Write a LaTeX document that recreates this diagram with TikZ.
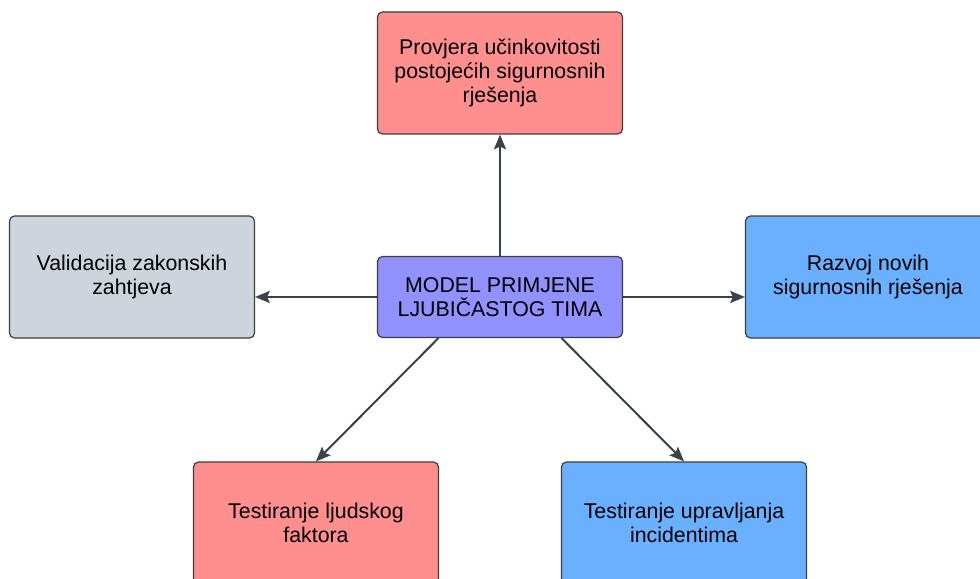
\documentclass[tikz,border=0pt]{standalone}
\usepackage{fontspec}
\setmainfont{Liberation Sans}
\usetikzlibrary{positioning,arrows.meta,calc}
\definecolor{crvena}{HTML}{FF8F8F}
\definecolor{plava}{HTML}{6BB0FF}
\definecolor{ljubicasta}{HTML}{9191FF}
\definecolor{siva}{HTML}{CED4DC}
\definecolor{rub}{HTML}{3D3D3D}
\definecolor{strelica}{HTML}{3A414A}

\begin{document}
\begin{tikzpicture}[on grid,
    kutija/.style={draw=rub, line width=0.9pt, rounded corners=3.75pt,
      minimum width=183.75pt, minimum height=91.5pt, align=center,
      font=\fontsize{16}{18}\selectfont, inner sep=0pt},
    veza/.style={draw=strelica, line width=1.5pt,
      -{Stealth[length=11pt,width=9pt,inset=2pt]}}]
   \clip (-375pt,-210.75pt) rectangle (360pt,222.75pt);
   \node[kutija, fill=ljubicasta, minimum height=60.75pt] (model) at (0,0)
      {MODEL PRIMJENE\\LJUBIČASTOG TIMA};
   \node[kutija, fill=crvena] (provjera) [above=168pt of model]
      {Provjera učinkovitosti\\postojećih sigurnosnih\\rješenja};
   \node[kutija, fill=siva] (validacija) [above left=15pt and 276pt of model]
      {Validacija zakonskih\\zahtjeva};
   \node[kutija, fill=plava] (razvoj) [above right=15pt and 276pt of model]
      {Razvoj novih\\sigurnosnih rješenja};
   \node[kutija, fill=crvena] (ljudski) [below left=169.5pt and 138pt of model]
      {Testiranje ljudskog\\faktora};
   \node[kutija, fill=plava] (incidenti) [below right=169.5pt and 138pt of model]
      {Testiranje upravljanja\\incidentima};
    \coordinate (izlazL) at ($(model.south)!0.5!(model.south west)$);
    \coordinate (izlazD) at ($(model.south)!0.5!(model.south east)$);
    \path
    (model.north) edge[veza] (provjera.south)
    (model.west) edge[veza] (model.west -| validacija.east)
    (model.east) edge[veza] (model.east -| razvoj.west)
    (izlazL) edge[veza] (ljudski.north)
    (izlazD) edge[veza] (incidenti.north);
\end{tikzpicture}
\end{document}
